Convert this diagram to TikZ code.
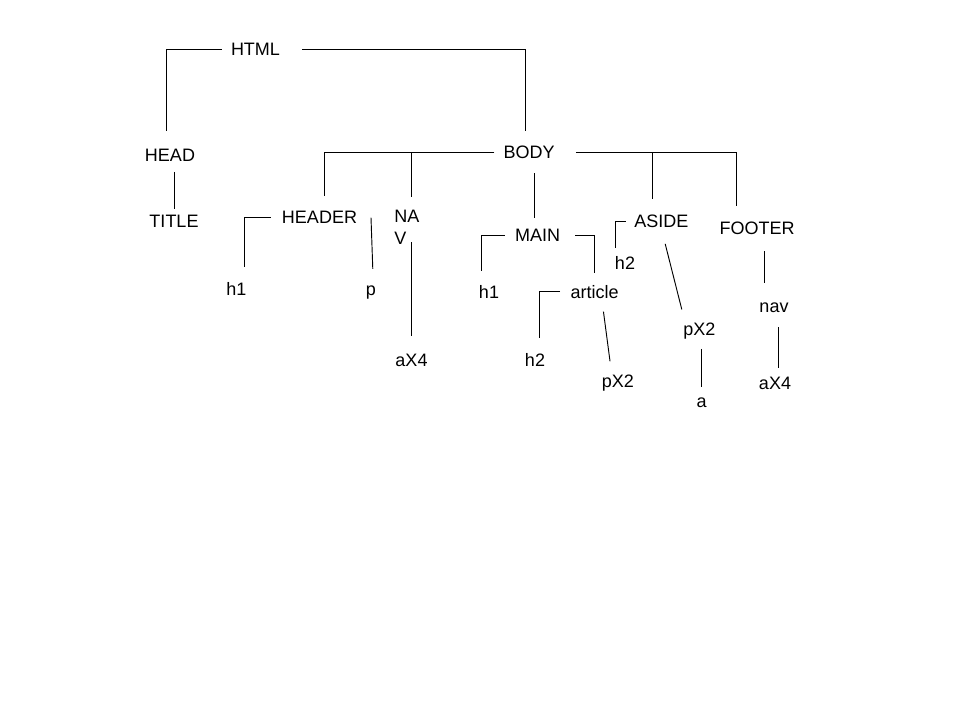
\documentclass[tikz,border=0pt]{standalone}
\usepackage{fontspec}
\setmainfont{Liberation Sans}
\usetikzlibrary{calc}

\begin{document}
\begin{tikzpicture}[x=0.75pt,y=-0.75pt,line width=0.7pt,
	tag/.style={inner sep=0pt,anchor=base,text height=9.6pt,text depth=0pt,font=\fontsize{13.5}{16.3}\selectfont}]
			\useasboundingbox (0,0) rectangle (960,720);
			\node[tag] (html) at (255.5,56) {HTML};
			\node[tag] (head) at (170,162) {HEAD};
			\node[tag] (title) at (174,228) {TITLE};
			\node[tag] (body) at (529,159) {BODY};
			\node[tag] (header) at (319.5,224) {HEADER};
			\node[inner sep=0pt,anchor=north west,align=left,font=\fontsize{13.5}{16.3}\selectfont] (nav) at (394,210) {NA\\V};
			\node[tag] (hone) at (236.5,296) {h1};
			\node[tag] (para) at (371,296) {p};
			\node[tag] (navlinks) at (411.5,366) {aX4};
			\node[tag] (main) at (537.5,242) {MAIN};
			\node[tag] (mhone) at (489,298) {h1};
			\node[tag] (article) at (594.7,298) {article};
			\node[tag] (ahtwo) at (535,366) {h2};
			\node[tag] (apara) at (617.8,387) {pX2};
			\node[tag] (aside) at (661.3,228) {ASIDE};
			\node[tag] (shtwo) at (625,270) {h2};
			\node[tag] (spara) at (699.3,335) {pX2};
			\node[tag] (slink) at (701.7,407) {a};
			\node[tag] (footer) at (757,235) {FOOTER};
			\node[tag] (fnav) at (774,312) {nav};
			\node[tag] (flinks) at (775,389) {aX4};
			\draw[shorten <=6.75pt,shorten >=13.5pt] (html.west) -| ([xshift=-3pt]head.north);
			\draw[shorten <=16.5pt,shorten >=11.25pt] (html.east) -| ([xshift=-2.5pt]body.north);
			\draw[shorten <=7pt,shorten >=4pt] (title.north |- head.south) -- (title.north);
			\draw[shorten <=6.5pt,shorten >=11pt] (body.west) -| ([xshift=3.6pt]header.north);
			\draw[shorten >=10pt] ([xshift=3pt]nav.north |- body.west) -- ([xshift=3pt]nav.north);
			\draw[shorten <=10.3pt,shorten >=8.2pt] ([xshift=-2.6pt]main.north |- body.south) -- ([xshift=-2.6pt]main.north);
			\draw[shorten <=15.75pt,shorten >=11.6pt] (body.east) -| ([xshift=-15.75pt]footer.north);
			\draw[shorten >=12pt] ([xshift=-6.5pt]aside.north |- body.east) -- ([xshift=-6.5pt]aside.north);
			\draw[shorten <=8.25pt,shorten >=12pt] (header.west) -| ([xshift=5.6pt]hone.north);
			\draw[shorten >=10.4pt] (para.north |- header.east) -- ([xshift=1.7pt]para.north);
			\draw[shorten <=-2pt,shorten >=12.4pt] (navlinks.north |- nav.south) -- (navlinks.north);
			\draw[shorten <=7.5pt,shorten >=10pt] (main.west) -| ([xshift=-5.5pt]mhone.north);
			\draw[shorten <=11.25pt,shorten >=9pt] (main.east) -| (article.north);
			\draw[shorten <=7.5pt,shorten >=11.2pt] (article.west) -| ([xshift=3.2pt]ahtwo.north);
			\draw[shorten <=10pt,shorten >=9.4pt] ([xshift=5.25pt]article.south) -- ([xshift=-4.6pt]apara.north);
			\draw[shorten <=6.2pt,shorten >=6.7pt] (aside.west) -| ([xshift=-7.5pt]shtwo.north);
			\draw[shorten <=11.9pt,shorten >=9.5pt] (aside.south) -- ([xshift=-10.8pt]spara.north);
			\draw[shorten <=10pt,shorten >=5.4pt] (slink.north |- spara.south) -- (slink.north);
			\draw[shorten <=11.8pt,shorten >=11.9pt] ([xshift=5.5pt]footer.south) -- ([xshift=5.5pt]footer.south |- fnav.north);
			\draw[shorten <=10.9pt,shorten >=6pt] ([xshift=2.6pt]flinks.north |- fnav.south) -- ([xshift=2.6pt]flinks.north);
		\end{tikzpicture}
\end{document}
